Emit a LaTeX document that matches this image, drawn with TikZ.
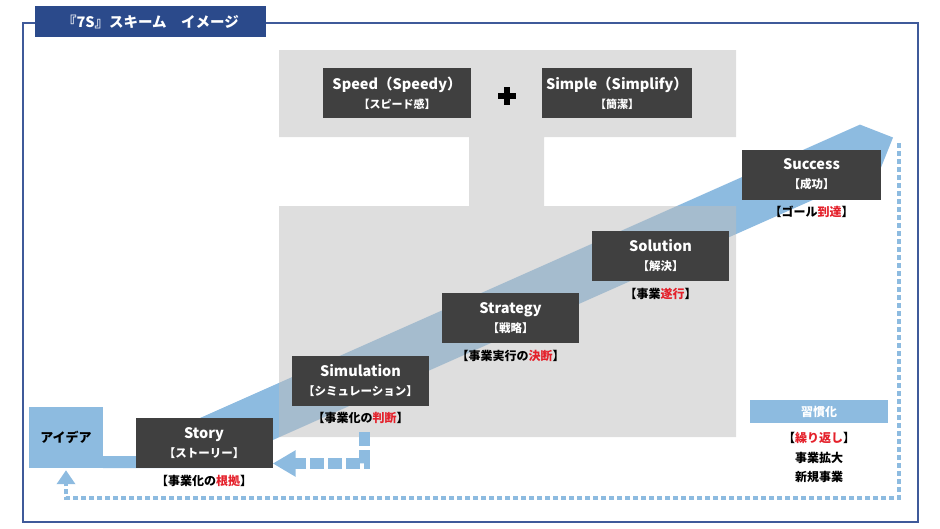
\documentclass[tikz,border=0pt]{standalone}
\usepackage{fontspec}
\setmainfont{Noto Sans CJK JP}
\usetikzlibrary{arrows.meta}
\definecolor{FrameClr}{RGB}{63,90,154}
\definecolor{TitleClr}{RGB}{43,74,139}
\definecolor{BoxClr}{RGB}{64,64,64}
\definecolor{AreaClr}{RGB}{190,190,190}
\definecolor{FlowClr}{RGB}{141,187,224}
\definecolor{KeyClr}{RGB}{228,32,42}
\newcommand{\redword}[1]{\textcolor{KeyClr}{#1}}
\newcommand{\boxsub}[2][11.5]{{\fontsize{#1}{19}\selectfont #2}}

\begin{document}
\begin{tikzpicture}[x=1pt,y=-1pt,
  stepbox/.style={fill=BoxClr,text=white,minimum width=137pt,minimum height=50pt,
    inner sep=0pt,align=center,font=\bfseries\fontsize{14.5}{19}\selectfont},
  note/.style={inner sep=0pt,align=center,font=\bfseries\fontsize{12}{19.5}\selectfont},
  backflow/.style={draw=FlowClr,line width=11pt,dash pattern=on 14pt off 4pt,
    -{Triangle[length=23pt,width=25pt]}},
  loopflow/.style={draw=FlowClr,line width=4pt,dash pattern=on 5pt off 3pt,
    -{Triangle[length=14pt,width=18pt]},shorten >=2pt}]
\useasboundingbox (0,0) rectangle (940,528);

% frame and title
\draw[FrameClr,line width=2pt] (22.7,23) rectangle (918,522);
\node[fill=TitleClr,text=white,minimum width=231pt,minimum height=31pt,inner sep=0pt,
  font=\bfseries\fontsize{14.5}{16}\selectfont] (title) at (150.5,21.5) {『7S』スキーム　イメージ};

% rising band
\fill[FlowClr] (103,456) -- (210,456) -- (200,418) -- (860,124.6) -- (893,137.5)
  -- (880,170.1) -- (220,463.5) -- (220,468) -- (103,468) -- cycle;

% grey area
\fill[AreaClr,fill opacity=.51] (279,50) -- (736,50) -- (736,137) -- (544,137)
  -- (544,206) -- (736,206) -- (736,437) -- (279,437) -- (279,206) -- (469,206)
  -- (469,137) -- (279,137) -- cycle;

\node[stepbox,minimum width=148pt] (speed) at (397,93) {Speed（Speedy）\\\boxsub[11]{【スピード感】}};
\node[stepbox,minimum width=150pt] (simple) at (617,93) {Simple（Simplify）\\\boxsub[11]{【簡潔】}};
\draw[line width=5.5pt] (498,96) -- (516,96) (507,87) -- (507,105);

\node[fill=FlowClr,minimum width=74pt,minimum height=61pt,inner sep=0pt,
  font=\bfseries\fontsize{13}{16}\selectfont] (idea) at (66,437.5) {アイデア};

\node[stepbox] (story) at (204,443) {Story\\\boxsub{【ストーリー】}};
\node[stepbox] (sim) at (360.5,381) {Simulation\\\boxsub{【シミュレーション】}};
\node[stepbox] (strat) at (510.5,318) {Strategy\\\boxsub{【戦略】}};
\node[stepbox] (sol) at (660.5,256) {Solution\\\boxsub{【解決】}};
\node[stepbox,minimum width=139pt] (succ) at (811.5,174.5) {Success\\\boxsub{【成功】}};

\node[note] (storynote) at ([yshift=-12.5pt]story.south) {【事業化の\redword{根拠}】};
\node[note] (simnote) at ([yshift=-12pt]sim.south) {【事業化の\redword{判断}】};
\node[note] (stratnote) at ([yshift=-13pt]strat.south) {【事業実行の\redword{決断}】};
\node[note] (solnote) at ([yshift=-13pt]sol.south) {【事業\redword{遂行}】};
\node[note] (succnote) at ([yshift=-12pt]succ.south) {【ゴール\redword{到達}】};

\node[fill=FlowClr,text=white,minimum width=138pt,minimum height=23pt,inner sep=0pt,
  font=\bfseries\fontsize{12}{16}\selectfont] (habit) at (819,411.5) {習慣化};
\node[note] (habitnote) at (819,457.5) {【\redword{繰り返し}】\\事業拡大\\新規事業};

% feedback arrows
\coordinate (simback) at (364,432);
\draw[backflow] (simback) |- (story.east |- 0,463.5);
\coordinate (loopstart) at (899,143);
\draw[loopflow] (loopstart) |- ([yshift=-30pt]idea.south) -- (idea.south);

\end{tikzpicture}
\end{document}
